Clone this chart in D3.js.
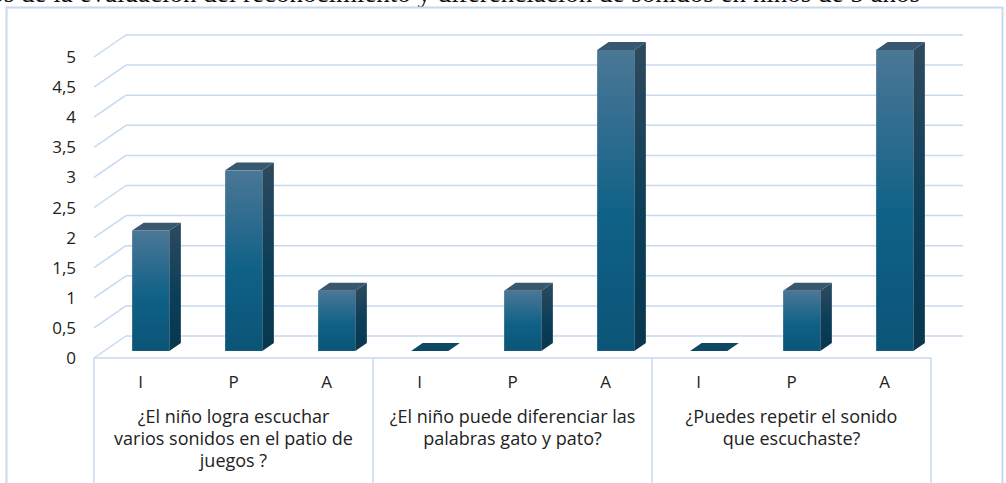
<!DOCTYPE html>
<html>
<head>
<meta charset="utf-8">
<script src="https://cdn.jsdelivr.net/npm/d3@7"></script>
<style>
  body { margin: 0; background: #fff; }
  svg { display: block; }
</style>
</head>
<body>
<div id="chart"></div>
<script>
// chart data
var titleText = "Resultados de la evaluación del reconocimiento y diferenciación de sonidos en niños de 5 años";
var levels = ["I", "P", "A"];
var questions = [
    ["¿El niño logra escuchar", "varios sonidos en el patio de", "juegos ?"],
    ["¿El niño puede diferenciar las", "palabras gato y pato?"],
    ["¿Puedes repetir el sonido", "que escuchaste?"]
];
var values = [
    [2, 3, 1],
    [0, 1, 5],
    [0, 1, 5]
];
var yTicks = [0, 0.5, 1, 1.5, 2, 2.5, 3, 3.5, 4, 4.5, 5];

var width = 1006, height = 483;
var gridColor = "#c6d9f0";
var fontFam = "'Open Sans', 'Liberation Sans', sans-serif";

// 3d depth of the floor / walls
var depthX = 32, depthY = -22;
var barFront = 0.32, barBack = 0.68;

var svg = d3.select("#chart").append("svg")
    .attr("width", width)
    .attr("height", height);

var defs = svg.append("defs");

var gFront = defs.append("linearGradient").attr("id", "gradFront")
    .attr("x1", 0).attr("y1", 0).attr("x2", 0).attr("y2", 1);
gFront.append("stop").attr("offset", "0%").attr("stop-color", "#4b7796");
gFront.append("stop").attr("offset", "55%").attr("stop-color", "#106187");
gFront.append("stop").attr("offset", "100%").attr("stop-color", "#0b5477");

var gSide = defs.append("linearGradient").attr("id", "gradSide")
    .attr("x1", 0).attr("y1", 0).attr("x2", 0).attr("y2", 1);
gSide.append("stop").attr("offset", "0%").attr("stop-color", "#2e4a5f");
gSide.append("stop").attr("offset", "55%").attr("stop-color", "#0c3e58");
gSide.append("stop").attr("offset", "100%").attr("stop-color", "#08374f");

// title (cut off at the top of the picture, as in the source)
svg.append("text")
    .attr("x", 920)
    .attr("y", 2)
    .attr("text-anchor", "end")
    .style("font-family", "'Liberation Serif', 'DejaVu Serif', serif")
    .style("font-size", "27px")
    .style("fill", "#111")
    .text(titleText);

// outer chart border
svg.append("rect")
    .attr("x", 6.5).attr("y", 7.5)
    .attr("width", 996).attr("height", 520)
    .attr("fill", "none")
    .attr("stroke", gridColor)
    .attr("stroke-width", 2);

var flat = [];
values.forEach(function (row, qi) {
    row.forEach(function (v, li) {
        flat.push({q: qi, level: levels[li], value: v, idx: qi * levels.length + li});
    });
});

var x = d3.scaleBand()
    .domain(d3.range(flat.length))
    .range([94, 931]);

var y = d3.scaleLinear()
    .domain([0, 5])
    .range([358, 57]);

function px(xv, f) { return xv + f * depthX; }
function py(yv, f) { return yv + f * depthY; }

// back wall gridlines
svg.selectAll(".grid-back")
    .data(yTicks)
    .enter().append("line")
    .attr("x1", px(94, 1)).attr("x2", px(931, 1))
    .attr("y1", function (d) { return py(y(d), 1); })
    .attr("y2", function (d) { return py(y(d), 1); })
    .attr("stroke", gridColor).attr("stroke-width", 1.5);

// side wall diagonals
svg.selectAll(".grid-side")
    .data(yTicks)
    .enter().append("line")
    .attr("x1", 94).attr("x2", px(94, 1))
    .attr("y1", function (d) { return y(d); })
    .attr("y2", function (d) { return py(y(d), 1); })
    .attr("stroke", gridColor).attr("stroke-width", 1.5);

// floor front edge + category box
svg.append("line")
    .attr("x1", 94).attr("x2", 931)
    .attr("y1", y(0)).attr("y2", y(0))
    .attr("stroke", gridColor).attr("stroke-width", 1.5);

var groupEdges = d3.range(questions.length + 1).map(function (i) {
    return i < questions.length ? x(i * levels.length) : x.range()[1];
});
svg.selectAll(".group-edge")
    .data(groupEdges)
    .enter().append("line")
    .attr("x1", function (d) { return d; })
    .attr("x2", function (d) { return d; })
    .attr("y1", y(0)).attr("y2", height)
    .attr("stroke", gridColor).attr("stroke-width", 1.5);

// y tick labels
svg.selectAll(".ytick")
    .data(yTicks)
    .enter().append("text")
    .attr("x", 76)
    .attr("y", function (d) { return y(d) + 6; })
    .attr("text-anchor", "end")
    .style("font-family", fontFam)
    .style("font-size", "17px")
    .style("fill", "#222")
    .text(function (d) { return d3.format("~g")(d).replace(".", ","); });

// bars
var bw = x.bandwidth() * 0.4;
var bars = svg.selectAll(".bar")
    .data(flat)
    .enter().append("g")
    .attr("class", "bar");

bars.each(function (d) {
    var g = d3.select(this);
    var cx = x(d.idx) + x.bandwidth() / 2;
    var x0 = px(cx - bw / 2, barFront), x1 = px(cx + bw / 2, barFront);
    var yb = py(y(0), barFront), yt = py(y(d.value), barFront);
    var ddx = (barBack - barFront) * depthX, ddy = (barBack - barFront) * depthY;

    if (d.value === 0) {
        g.append("path")
            .attr("d", "M" + x0 + "," + yb + "L" + x1 + "," + yb +
                "L" + (x1 + ddx) + "," + (yb + ddy) + "L" + (x0 + ddx) + "," + (yb + ddy) + "Z")
            .attr("fill", "#0e4863");
        return;
    }
    g.append("rect")
        .attr("x", x0).attr("y", yt)
        .attr("width", x1 - x0).attr("height", yb - yt)
        .attr("fill", "url(#gradFront)");
    g.append("path")
        .attr("d", "M" + x1 + "," + yt + "L" + (x1 + ddx) + "," + (yt + ddy) +
            "L" + (x1 + ddx) + "," + (yb + ddy) + "L" + x1 + "," + yb + "Z")
        .attr("fill", "url(#gradSide)");
    g.append("path")
        .attr("d", "M" + x0 + "," + yt + "L" + x1 + "," + yt +
            "L" + (x1 + ddx) + "," + (yt + ddy) + "L" + (x0 + ddx) + "," + (yt + ddy) + "Z")
        .attr("fill", "#37586f");
});

// level labels under each bar
svg.selectAll(".level")
    .data(flat)
    .enter().append("text")
    .attr("x", function (d) { return x(d.idx) + x.bandwidth() / 2; })
    .attr("y", 388)
    .attr("text-anchor", "middle")
    .style("font-family", fontFam)
    .style("font-size", "17px")
    .style("fill", "#222")
    .text(function (d) { return d.level; });

// question labels
questions.forEach(function (lines, qi) {
    var cx = (groupEdges[qi] + groupEdges[qi + 1]) / 2;
    var t = svg.append("text")
        .attr("text-anchor", "middle")
        .style("font-family", fontFam)
        .style("font-size", "18px")
        .style("fill", "#222");
    lines.forEach(function (ln, i) {
        t.append("tspan")
            .attr("x", cx)
            .attr("y", 423 + i * 22)
            .text(ln);
    });
});
</script>
</body>
</html>
